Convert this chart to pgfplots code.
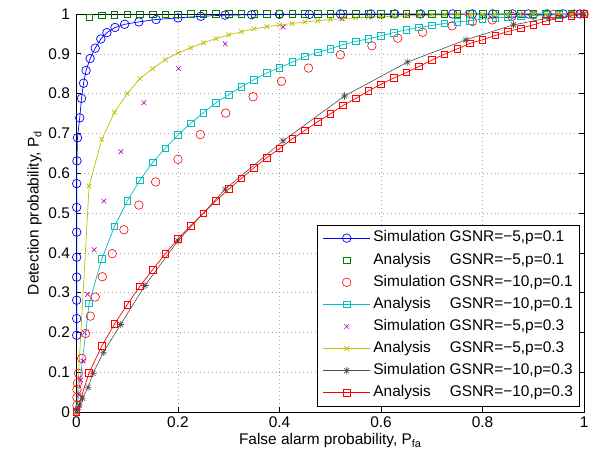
\documentclass[border=0pt]{standalone}
\usepackage{fontspec}
\setmainfont{Liberation Sans}
\usepackage{pgfplots}
\pgfplotsset{compat=1.18}
\usetikzlibrary{calc}
\definecolor{mblue}{rgb}{0,0,1}
\definecolor{mgreen}{rgb}{0,0.5,0}
\definecolor{mred}{rgb}{1,0,0}
\definecolor{mcyan}{rgb}{0,0.75,0.75}
\definecolor{mmag}{rgb}{0.75,0,0.75}
\definecolor{myel}{rgb}{0.75,0.75,0}
\definecolor{mgray}{rgb}{0.3,0.3,0.3}
\newcommand\fsz{\fontsize{15.5}{18}\selectfont}
\newlength\sw
\pgfdeclareplotmark{mstar}{%
 \pgfpathmoveto{\pgfqpoint{-\pgfplotmarksize}{0pt}}\pgfpathlineto{\pgfqpoint{\pgfplotmarksize}{0pt}}%
 \pgfpathmoveto{\pgfqpoint{0pt}{-\pgfplotmarksize}}\pgfpathlineto{\pgfqpoint{0pt}{\pgfplotmarksize}}%
 \pgfpathmoveto{\pgfqpoint{-0.707\pgfplotmarksize}{-0.707\pgfplotmarksize}}\pgfpathlineto{\pgfqpoint{0.707\pgfplotmarksize}{0.707\pgfplotmarksize}}%
 \pgfpathmoveto{\pgfqpoint{-0.707\pgfplotmarksize}{0.707\pgfplotmarksize}}\pgfpathlineto{\pgfqpoint{0.707\pgfplotmarksize}{-0.707\pgfplotmarksize}}%
 \pgfusepathqstroke}
\pgfplotsset{
 legline/.style={legend image code/.code={\path[draw=none,fill=none] (-3pt,0pt) -- (47pt,0pt);
   \draw[mark repeat=2,mark phase=2] plot coordinates {(0pt,0pt) (23.5pt,0pt) (47pt,0pt)};}},
 legmark/.style={legend image code/.code={\path[draw=none,fill=none] (-3pt,0pt) -- (47pt,0pt);
   \draw[draw=none] (23.5pt,0pt) node[inner sep=0pt]{};
   \draw[only marks] plot coordinates {(23.5pt,0pt)};}},
}
\begin{document}
\settowidth{\sw}{\fsz Simulation\ }
\begin{tikzpicture}
\begin{axis}[
 width=510pt, height=400pt, scale only axis,
 xmin=0, xmax=1, ymin=0, ymax=1,
 xtick={0,0.2,0.4,0.6,0.8,1},
 ytick={0,0.1,0.2,0.3,0.4,0.5,0.6,0.7,0.8,0.9,1},
 tick align=inside, major tick length=5pt,
 every tick/.style={black, line width=0.6pt},
 axis line style={line width=0.8pt},
 grid=major,
 major grid style={gray!70, line width=0.5pt, dash pattern=on 0.8pt off 3.2pt},
 /pgf/number format/assume math mode=true,
 tick label style={font=\fsz},
 yticklabel style={xshift=-3pt},
 xticklabel style={yshift=-1.5pt},
 label style={font=\fsz},
 xlabel={False alarm probability, P\textsubscript{fa}},
 ylabel={Detection probability, P\textsubscript{d}},
 xlabel style={at={(axis description cs:0.5,-0.0825)}, anchor=base},
 ylabel style={at={(axis description cs:-0.0745,0.5)}, anchor=base, rotate=0},
 clip=false,
 legend cell align=left,
 legend style={at={(axis description cs:0.9902,0.015)}, anchor=south east,
   font=\fsz, draw=black, line width=0.6pt, inner xsep=3pt, inner ysep=2pt, row sep=0pt,
   nodes={inner xsep=3pt, inner ysep=4.1pt, text height=10.9pt, text depth=3.1pt}},
]
% Simulation GSNR=-5, p=0.1
\addplot[mblue, line width=0.7pt, mark=o, mark size=4.3pt, legline] coordinates {
(0.0005,0.193) (0.0005,0.235) (0.0005,0.281) (0.0005,0.339) (0.0005,0.389)
(0.0005,0.452) (0.0005,0.514) (0.0005,0.574) (0.0010,0.631) (0.0020,0.689)
(0.0065,0.739) (0.0100,0.788) (0.0140,0.826) (0.0190,0.858) (0.0270,0.888)
(0.0370,0.914) (0.0480,0.937) (0.0600,0.953) (0.0760,0.966) (0.0950,0.974)
(0.1230,0.980) (0.1570,0.986) (0.2000,0.990) (0.2450,0.994) (0.2930,0.997)
(0.3450,0.998) (0.4000,0.999) (0.4590,0.999) (0.5200,1.000) (0.5800,1.000)
(0.6270,1.000) (0.6780,1.000) (0.7410,1.000) (0.7800,1.000) (0.8200,1.000)
(0.8590,1.000) (0.8900,1.000) (0.9270,1.000) (0.9590,1.000) (0.9920,1.000)};
\addlegendentry{\makebox[\sw][l]{Simulation}GSNR=−5,p=0.1}
% Analysis GSNR=-5, p=0.1
\addplot[mgreen, line width=0.6pt, only marks, mark=square, mark size=3.3pt, legmark] coordinates {
(0,0) (0.025,0.992) (0.05,0.997) (0.075,0.998) (0.1,0.999) (0.125,0.999) (0.15,0.999)
(0.175,0.999) (0.2,0.999) (0.225,1) (0.25,1) (0.275,1) (0.3,1) (0.325,1) (0.35,1)
(0.375,1) (0.4,1) (0.425,1) (0.45,1) (0.475,1) (0.5,1) (0.525,1) (0.55,1) (0.575,1)
(0.6,1) (0.625,1) (0.65,1) (0.675,1) (0.7,1) (0.725,1) (0.75,1) (0.775,1) (0.8,1)
(0.825,1) (0.85,1) (0.875,1) (0.9,1) (0.925,1) (0.95,1) (0.975,1) (1,1)};
\addlegendentry{\makebox[\sw][l]{Analysis}GSNR=−5,p=0.1}
% Simulation GSNR=-10, p=0.1
\addplot[mred, line width=0.6pt, only marks, mark=o, mark size=4.3pt, legmark] coordinates {
(0.001,0.017) (0.001,0.037) (0.001,0.057) (0.002,0.0725) (0.004,0.0975) (0.0104,0.135)
(0.018,0.1975) (0.0275,0.241) (0.037,0.289) (0.051,0.340) (0.0706,0.398) (0.0935,0.458)
(0.123,0.520) (0.156,0.578) (0.200,0.635) (0.244,0.697) (0.294,0.751) (0.348,0.792)
(0.404,0.831) (0.457,0.864) (0.520,0.8975) (0.582,0.920) (0.633,0.939) (0.682,0.954)
(0.740,0.970) (0.780,0.981) (0.819,0.985) (0.858,0.994) (0.900,0.997) (0.940,0.999)
(0.980,1.000) (1,1)};
\addlegendentry{\makebox[\sw][l]{Simulation}GSNR=−10,p=0.1}
% Analysis GSNR=-10, p=0.1
\addplot[mcyan, line width=0.7pt, mark=square, mark size=3.3pt, legline] coordinates {
(0,0) (0.025,0.273) (0.05,0.385) (0.075,0.466) (0.1,0.530) (0.125,0.582) (0.15,0.627)
(0.175,0.6625) (0.2,0.696) (0.225,0.725) (0.25,0.752) (0.275,0.777) (0.3,0.797)
(0.325,0.817) (0.35,0.835) (0.375,0.852) (0.4,0.865) (0.425,0.879) (0.45,0.893)
(0.475,0.903) (0.5,0.9125) (0.525,0.9225) (0.55,0.931) (0.575,0.9375) (0.6,0.945)
(0.625,0.953) (0.65,0.960) (0.675,0.966) (0.7,0.971) (0.725,0.976) (0.75,0.980)
(0.775,0.983) (0.8,0.987) (0.825,0.990) (0.85,0.992) (0.875,0.994) (0.9,0.996)
(0.925,0.997) (0.95,0.998) (0.975,0.999) (1,1)};
\addlegendentry{\makebox[\sw][l]{Analysis}GSNR=−10,p=0.1}
% Simulation GSNR=-5, p=0.3
\addplot[mmag, line width=0.6pt, only marks, mark=x, mark size=3.3pt, legmark] coordinates {
(0.002,0.010) (0.005,0.043) (0.0085,0.081) (0.013,0.128) (0.016,0.200) (0.022,0.296)
(0.035,0.408) (0.054,0.530) (0.0876,0.654) (0.133,0.777) (0.201,0.863) (0.293,0.925)
(0.407,0.967) (0.523,0.9875) (0.652,0.998) (0.770,1.000) (0.880,1.000) (1,1)};
\addlegendentry{\makebox[\sw][l]{Simulation}GSNR=−5,p=0.3}
% Analysis GSNR=-5, p=0.3
\addplot[myel, line width=0.7pt, mark=x, mark size=3.3pt, legline] coordinates {
(0,0) (0.025,0.568) (0.05,0.685) (0.075,0.753) (0.1,0.800) (0.125,0.8375) (0.15,0.8625)
(0.175,0.885) (0.2,0.902) (0.225,0.915) (0.25,0.9275) (0.275,0.938) (0.3,0.9475)
(0.325,0.9555) (0.35,0.9625) (0.375,0.968) (0.4,0.972) (0.425,0.976) (0.45,0.980)
(0.475,0.983) (0.5,0.986) (0.525,0.988) (0.55,0.990) (0.575,0.992) (0.6,0.993)
(0.625,0.994) (0.65,0.995) (0.675,0.996) (0.7,0.997) (0.725,0.9975) (0.75,0.998)
(0.775,0.9985) (0.8,0.999) (0.825,0.999) (0.85,0.9995) (0.875,0.9995) (0.9,1)
(0.925,1) (0.95,1) (0.975,1) (1,1)};
\addlegendentry{\makebox[\sw][l]{Analysis}GSNR=−5,p=0.3}
% Simulation GSNR=-10, p=0.3
\addplot[mgray, line width=0.6pt, mark=mstar, mark size=3.6pt, legline] coordinates {
(0,0) (0.002,0.006) (0.006,0.018) (0.012,0.035) (0.023,0.062) (0.0327,0.0975)
(0.053,0.150) (0.087,0.220) (0.135,0.318) (0.200,0.430) (0.293,0.560) (0.407,0.681)
(0.528,0.794) (0.652,0.879) (0.767,0.935) (0.861,0.9725) (0.930,0.990) (1,1)};
\addlegendentry{\makebox[\sw][l]{Simulation}GSNR=−10,p=0.3}
% Analysis GSNR=-10, p=0.3
\addplot[mred, line width=0.7pt, mark=square, mark size=3.3pt, legline] coordinates {
(0,0) (0.025,0.099) (0.05,0.166) (0.075,0.221) (0.1,0.270) (0.125,0.316) (0.15,0.3575)
(0.175,0.3975) (0.2,0.435) (0.225,0.468) (0.25,0.499) (0.275,0.531) (0.3,0.560)
(0.325,0.587) (0.35,0.614) (0.375,0.639) (0.4,0.662) (0.425,0.686) (0.45,0.7075)
(0.475,0.729) (0.5,0.749) (0.525,0.770) (0.55,0.7875) (0.575,0.8065) (0.6,0.8235)
(0.625,0.839) (0.65,0.853) (0.675,0.868) (0.7,0.884) (0.725,0.899) (0.75,0.912)
(0.775,0.926) (0.8,0.935) (0.825,0.946) (0.85,0.956) (0.875,0.964) (0.9,0.9725)
(0.925,0.9825) (0.95,0.989) (0.975,0.995) (1,1)};
\addlegendentry{\makebox[\sw][l]{Analysis}GSNR=−10,p=0.3}
\end{axis}
\pgfresetboundingbox
\path ($(current axis.south west)+(-74pt,-52pt)$) rectangle ($(current axis.north east)+(19pt,14pt)$);
\end{tikzpicture}
\end{document}
